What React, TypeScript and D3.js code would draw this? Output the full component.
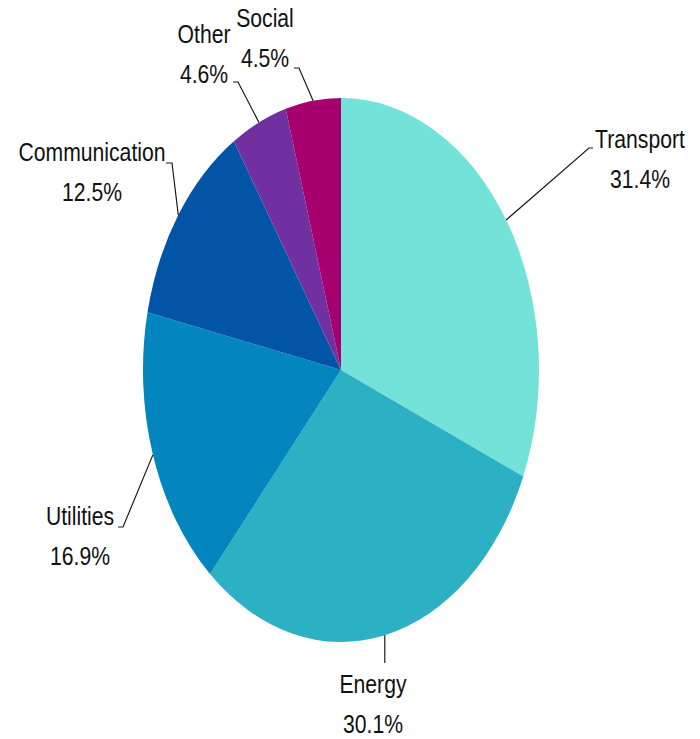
import React from "react";
import * as d3 from "d3";

const categories = ["Transport", "Energy", "Utilities", "Communication", "Other", "Social"];
const shares = [31.4, 30.1, 16.9, 12.5, 4.6, 4.5];
const colors = ["#73E2D9", "#2BB0C4", "#0385BD", "#0254A6", "#7030A0", "#A6006E"];

// label layout (text centre x, first baseline, leader elbow & hook)
const labelLayout: Record<string, { cx: number; y: number; elbow: [number, number]; hook: [number, number] | null }> = {
  Transport: { cx: 640, y: 148, elbow: [589, 148], hook: [593, 148] },
  Energy: { cx: 373, y: 693, elbow: [385, 663], hook: null },
  Utilities: { cx: 80, y: 525, elbow: [123, 527], hook: [118, 527] },
  Communication: { cx: 92, y: 161, elbow: [172, 163], hook: [166, 163] },
  Other: { cx: 204, y: 43, elbow: [238, 82], hook: [233, 82] },
  Social: { cx: 265, y: 27, elbow: [299, 68], hook: [294, 68] },
};

const W = 700;
const H = 739;
const CX = 341;
const CY = 370;
const RX = 198;
const RY = 272;

export default function App() {
  const data = categories.map((c, i) => ({ name: c, value: shares[i], color: colors[i] }));
  const pie = d3.pie<any>().sort(null).value((d) => d.value).startAngle(0).endAngle(2 * Math.PI);
  const arcs = pie(data);
  const arc = d3.arc<any>().innerRadius(0).outerRadius(RX);
  const sy = RY / RX;
  const font = "'Liberation Sans', Arial, sans-serif";
  const fs = 25.5;
  const sx = 0.83;

  return (
    <svg width={W} height={H} style={{ position: "absolute", left: 0, top: 0 }}>
      <g transform={`translate(${CX},${CY}) scale(1,${sy})`}>
        {arcs.map((a, i) => (
          <path key={i} d={arc(a) as string} fill={a.data.color} />
        ))}
      </g>
      {arcs.map((a, i) => {
        const mid = (a.startAngle + a.endAngle) / 2;
        const ex = CX + RX * Math.sin(mid);
        const ey = CY - RY * Math.cos(mid);
        const L = labelLayout[a.data.name];
        const pts: [number, number][] = [[ex, ey]];
        if (L.hook) {
          pts.push(L.elbow, L.hook);
        } else {
          pts.push([ex, L.elbow[1]]);
        }
        const line = d3.line()(pts) as string;
        return (
          <g key={"l" + i}>
            <path d={line} fill="none" stroke="#1a1a1a" strokeWidth={1.2} />
            <text transform={`translate(${L.cx},${L.y}) scale(${sx},1)`} textAnchor="middle" fontFamily={font} fontSize={fs} fill="#111">
              {a.data.name}
            </text>
            <text transform={`translate(${L.cx},${L.y + 40}) scale(${sx},1)`} textAnchor="middle" fontFamily={font} fontSize={fs} fill="#111">
              {a.data.value.toFixed(1)}%
            </text>
          </g>
        );
      })}
    </svg>
  );
}
